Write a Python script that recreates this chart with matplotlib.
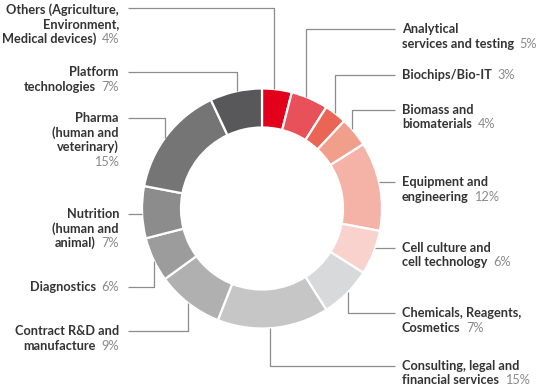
import matplotlib.pyplot as plt

plt.rcParams['font.family'] = ['Lato', 'DejaVu Sans']

# segments, clockwise from 12 o'clock
labels = [
    ["Others (Agriculture,", "Environment,", "Medical devices)"],
    ["Analytical", "services and testing"],
    ["Biochips/Bio-IT"],
    ["Biomass and", "biomaterials"],
    ["Equipment and", "engineering"],
    ["Cell culture and", "cell technology"],
    ["Chemicals, Reagents,", "Cosmetics"],
    ["Consulting, legal and", "financial services"],
    ["Contract R&D and", "manufacture"],
    ["Diagnostics"],
    ["Nutrition", "(human and", "animal)"],
    ["Pharma", "(human and", "veterinary)", ""],
    ["Platform", "technologies"],
]
shares = [4, 5, 3, 4, 12, 6, 7, 15, 9, 6, 7, 15, 7]
colors = ["#e2001a", "#e8505a", "#ea6555", "#f19e8a", "#f5b3a8", "#f9d2ce",
          "#d8d9da", "#c6c6c6", "#b0b0b0", "#9c9c9c", "#8c8c8c", "#757576",
          "#58585a"]

# label layout (pixel coords, y down): side, first line y, elbow x
sides = ["L", "R", "R", "R", "R", "R", "R", "R", "L", "L", "L", "L", "L"]
line_y = [8, 29, 75, 110, 182, 248, 313, 366, 331, 287, 214, 118, 72]
elbow_x = [274, 306, 335, 352, None, None, 348, 270, 188, 154, None, 165, 237]

cx, cy, R, W = 262, 208.5, 120, 39
XL, XR = 119, 402
TEXT = "#333333"
PCT = "#8a8a8a"
LINE = "#8c8c8c"
FS = 9.2
LS = 14.5

fig = plt.figure(figsize=(5.4, 3.89), dpi=100)
ax = fig.add_axes([0, 0, 1, 1])

ax.pie(shares, colors=colors, startangle=-90, counterclock=True,
       center=(cx, cy), radius=R,
       wedgeprops=dict(width=W, edgecolor="white", linewidth=1.6))
ax.set_xlim(0, 540)
ax.set_ylim(389, 0)
ax.set_aspect("equal")
ax.axis("off")


def ring_y(x, top):
    dx = x - cx
    h = (R ** 2 - dx ** 2) ** 0.5
    return cy - h if top else cy + h


for lab, p, side, ly, ex in zip(labels, shares, sides, line_y, elbow_x):
    # leader line
    if side == "L":
        x0 = 128
        if ex is None:
            xs, ys = [x0, cx - R], [ly, ly]
        else:
            top = ly < cy
            xs, ys = [x0, ex, ex], [ly, ly, ring_y(ex, top)]
    else:
        x0 = 395
        if ex is None:
            dy = ly - cy
            xs, ys = [x0, cx + (R ** 2 - dy ** 2) ** 0.5], [ly, ly]
        else:
            top = ly < cy
            xs, ys = [x0, ex, ex], [ly, ly, ring_y(ex, top)]
    ax.plot(xs, ys, color=LINE, lw=0.9, solid_capstyle="butt")

    # text
    base0 = ly + 4 if ly > 10 else ly + 6
    n = len(lab)
    pct = f"{p}%"
    for i, line in enumerate(lab):
        yb = base0 + i * LS
        last = i == n - 1
        if side == "L":
            if last:
                t = ax.text(XL, yb, pct, ha="right", va="baseline",
                            fontsize=FS, color=PCT)
                if line:
                    ax.annotate(line, xy=(0, yb), xycoords=(t, "data"),
                                xytext=(-4, 0), textcoords="offset points",
                                ha="right", va="baseline", fontsize=FS,
                                color=TEXT, fontweight="bold")
            else:
                ax.text(XL, yb, line, ha="right", va="baseline",
                        fontsize=FS, color=TEXT, fontweight="bold")
        else:
            t = ax.text(XR, yb, line, ha="left", va="baseline",
                        fontsize=FS, color=TEXT, fontweight="bold")
            if last:
                ax.annotate(pct, xy=(1, yb), xycoords=(t, "data"),
                            xytext=(4, 0), textcoords="offset points",
                            ha="left", va="baseline", fontsize=FS,
                            color=PCT)

fig.savefig("out.png", dpi=100)
